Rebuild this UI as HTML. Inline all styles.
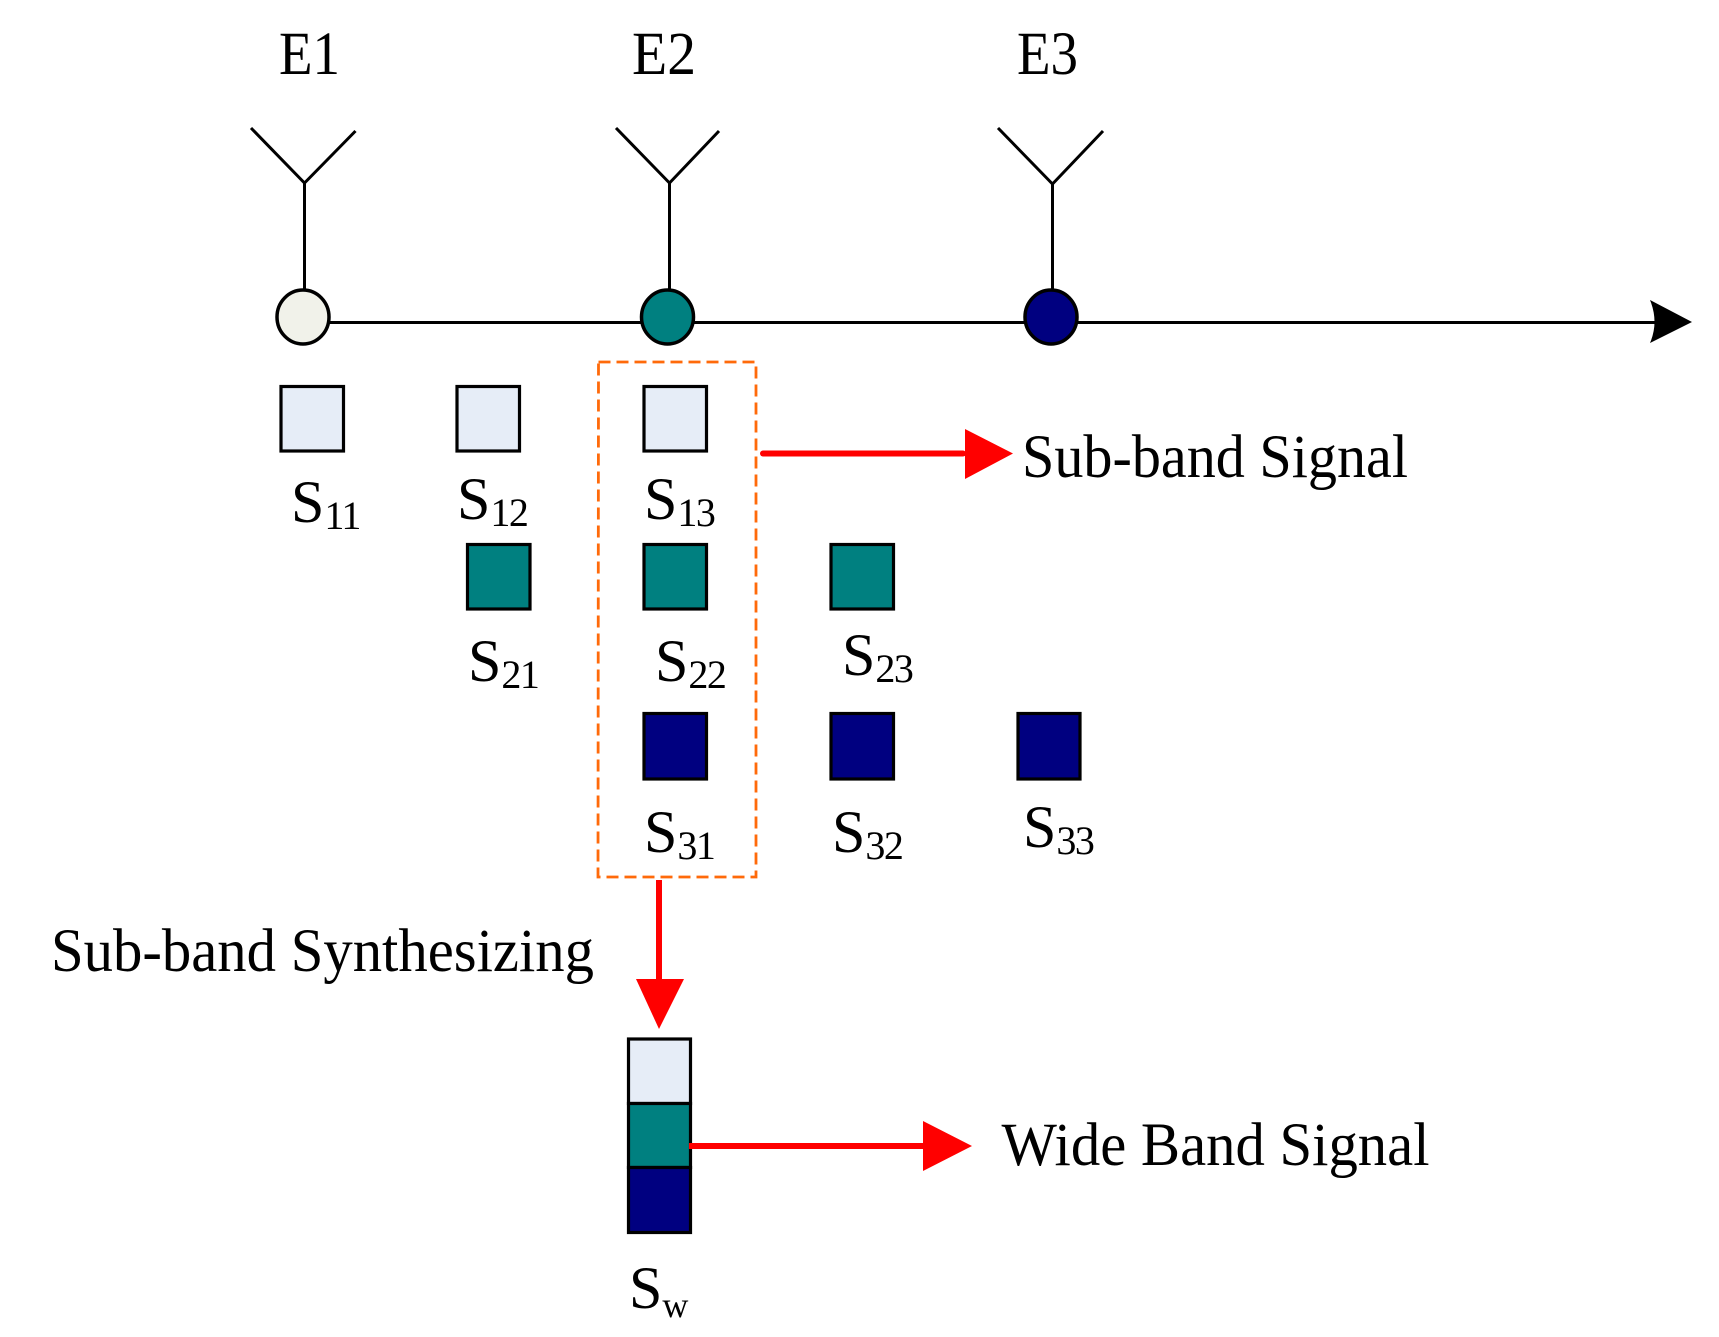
<!DOCTYPE html>
<html>
<head>
<meta charset="utf-8">
<style>
html,body{margin:0;padding:0;background:#fff;width:1719px;height:1337px;overflow:hidden}
svg{display:block}
text{font-family:"Liberation Serif",serif;font-size:61px;fill:#000}
text.l{font-size:60px}
tspan.s{font-size:40px;letter-spacing:-1.5px}
</style>
</head>
<body>
<svg width="1719" height="1337" viewBox="0 0 1719 1337" xmlns="http://www.w3.org/2000/svg">
<rect width="1719" height="1337" fill="#fff"/>
<!-- antennas -->
<g fill="none" stroke="#000" stroke-width="3">
<path d="M251 128L304.5 183L355.5 131M304.5 183V290"/>
<path d="M616 128L669.500 183L719 131M669.500 183V290"/>
<path d="M998 128L1052.500 184L1103 131M1052.500 184V290"/>
<path d="M329 322.500H1656"/>
</g>
<path d="M1650 300L1692 322L1650 343Q1659 322 1650 300Z" fill="#000"/>
<!-- circles -->
<g stroke="#000" stroke-width="3.500">
<ellipse cx="303" cy="317" rx="26" ry="27" fill="#f1f2ea"/>
<ellipse cx="667.500" cy="317" rx="26" ry="27" fill="#008080"/>
<ellipse cx="1051" cy="317" rx="26" ry="27" fill="#000080"/>
</g>
<!-- squares -->
<g stroke="#000" stroke-width="3.200">
<g fill="#e6edf7">
<rect x="281" y="386.500" width="62.500" height="64.500"/>
<rect x="457" y="386.500" width="62.500" height="64.500"/>
<rect x="644" y="386.500" width="62.500" height="64.500"/>
</g>
<g fill="#008080">
<rect x="467.500" y="544.500" width="62.500" height="64.500"/>
<rect x="644" y="544.500" width="62.500" height="64.500"/>
<rect x="831" y="544.500" width="62.500" height="64.500"/>
</g>
<g fill="#000080">
<rect x="644" y="713.500" width="62.500" height="65.500"/>
<rect x="831" y="713.500" width="62.500" height="65.500"/>
<rect x="1018" y="713.500" width="62" height="65.500"/>
</g>
<rect x="628.500" y="1039" width="62" height="64.500" fill="#e6edf7"/>
<rect x="628.500" y="1103.500" width="62" height="64" fill="#008080"/>
<rect x="628.500" y="1167.500" width="62" height="65" fill="#000080"/>
</g>
<!-- dashed box -->
<path d="M598.500 362H756V877H598Z" fill="none" stroke="#ff6a0a" stroke-width="2.800" stroke-dasharray="12 6"/>
<!-- red arrows -->
<g fill="#f00">
<rect x="760" y="450.500" width="206" height="6" rx="3"/>
<path d="M965 429L1013 453.500L965 479Z"/>
<rect x="656" y="880" width="6" height="100"/>
<path d="M636 979H684L659 1029Z"/>
<rect x="689" y="1143" width="235" height="6"/>
<path d="M923 1121L972 1146L923 1171Z"/>
</g>
<!-- labels -->
<text x="279" y="74" textLength="61" lengthAdjust="spacingAndGlyphs">E1</text>
<text x="632" y="74" textLength="64" lengthAdjust="spacingAndGlyphs">E2</text>
<text x="1017" y="74" textLength="61" lengthAdjust="spacingAndGlyphs">E3</text>
<text class="l" x="291" y="522">S<tspan class="s" dy="7">11</tspan></text>
<text class="l" x="457" y="519">S<tspan class="s" dy="7">12</tspan></text>
<text class="l" x="644" y="519">S<tspan class="s" dy="7">13</tspan></text>
<text class="l" x="468" y="681">S<tspan class="s" dy="7">21</tspan></text>
<text class="l" x="655" y="681">S<tspan class="s" dy="7">22</tspan></text>
<text class="l" x="842" y="675">S<tspan class="s" dy="7">23</tspan></text>
<text class="l" x="644" y="852">S<tspan class="s" dy="7">31</tspan></text>
<text class="l" x="832" y="852">S<tspan class="s" dy="7">32</tspan></text>
<text class="l" x="1023" y="847">S<tspan class="s" dy="7">33</tspan></text>
<text class="l" x="629" y="1308">S<tspan class="s" dy="9" style="letter-spacing:0;font-size:36px">w</tspan></text>
<text x="1022" y="477" textLength="386" lengthAdjust="spacingAndGlyphs">Sub-band Signal</text>
<text x="51" y="971" textLength="543" lengthAdjust="spacingAndGlyphs">Sub-band Synthesizing</text>
<text x="1001.500" y="1165" textLength="428" lengthAdjust="spacingAndGlyphs">Wide Band Signal</text>
</svg>
</body>
</html>
